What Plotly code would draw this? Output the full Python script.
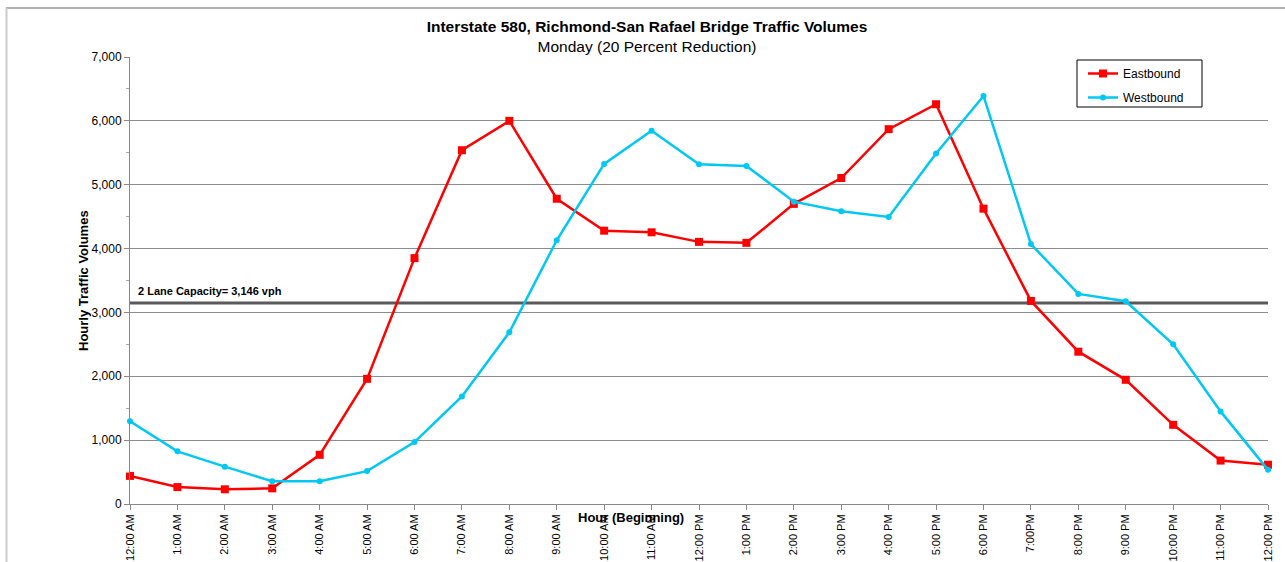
import plotly.graph_objects as go

hours = ["12:00 AM", "1:00 AM", "2:00 AM", "3:00 AM", "4:00 AM", "5:00 AM", "6:00 AM",
         "7:00 AM", "8:00 AM", "9:00 AM", "10:00 AM", "11:00 AM", "12:00 PM", "1:00 PM",
         "2:00 PM", "3:00 PM", "4:00 PM", "5:00 PM", "6:00 PM", "7:00PM", "8:00 PM",
         "9:00 PM", "10:00 PM", "11:00 PM", "12:00 PM"]
eastbound = [440, 265, 230, 245, 770, 1960, 3850, 5540, 6000, 4780, 4280, 4255, 4105,
             4090, 4700, 5105, 5870, 6260, 4625, 3180, 2385, 1945, 1240, 680, 615]
westbound = [1295, 825, 585, 355, 355, 515, 970, 1685, 2690, 4130, 5325, 5845, 5320,
             5295, 4735, 4585, 4495, 5490, 6390, 4070, 3290, 3175, 2500, 1450, 535]
capacity = 3146
capacity_label = "2 Lane Capacity= 3,146 vph"

xpos = list(range(len(hours)))
FONT = "Liberation Sans, Arial, sans-serif"

L, R, T, B = 130, 1268, 57, 504
PW, PH = R - L, B - T


def px(xp):
    return (xp - L) / PW


def py(yp):
    return (B - yp) / PH


fig = go.Figure()
fig.add_trace(go.Scatter(
    x=xpos, y=eastbound, name="Eastbound", mode="lines+markers", legendgroup="e",
    line=dict(color="#FF0000", width=2.5),
    marker=dict(symbol="square", size=8, color="#FF0000"),
    cliponaxis=False))
fig.add_trace(go.Scatter(
    x=xpos, y=westbound, name="Westbound", mode="lines+markers", legendgroup="w",
    line=dict(color="#00C8F2", width=2.5),
    marker=dict(symbol="circle", size=6, color="#00C8F2"),
    cliponaxis=False))

# capacity line
fig.add_shape(type="line", xref="paper", yref="y", x0=0, x1=1, y0=capacity, y1=capacity,
              line=dict(color="#5a5a5a", width=3), layer="below")
fig.add_annotation(xref="paper", yref="y", x=px(136), y=capacity, yshift=12,
                   text="<b>" + capacity_label + "</b>", showarrow=False,
                   xanchor="left", yanchor="middle", font=dict(size=11, color="black", family=FONT))

# outer frame lines (top and left)
fig.add_shape(type="line", xref="paper", yref="paper", x0=px(6), x1=px(1290), y0=py(8), y1=py(8),
              line=dict(color="#999999", width=1.5))
fig.add_shape(type="line", xref="paper", yref="paper", x0=px(6.5), x1=px(6.5), y0=py(570), y1=py(8),
              line=dict(color="#cccccc", width=2))

# legend box
fig.add_shape(type="rect", xref="paper", yref="paper", x0=px(1077), x1=px(1202), y0=py(107), y1=py(60),
              line=dict(color="black", width=1), fillcolor="white", layer="above")

# axis titles as annotations
fig.add_annotation(xref="paper", yref="paper", x=px(631), y=py(517),
                   text="<b>Hour (Beginning)</b>", showarrow=False,
                   xanchor="center", yanchor="middle", font=dict(size=13, color="black", family=FONT))
fig.add_annotation(xref="paper", yref="paper", x=px(83), y=py(281), textangle=-90,
                   text="<b>Hourly Traffic Volumes</b>", showarrow=False,
                   xanchor="center", yanchor="middle", font=dict(size=13, color="black", family=FONT))

fig.update_layout(
    width=1285, height=562,
    margin=dict(l=L, r=1285 - R, t=T, b=562 - B, autoexpand=False),
    paper_bgcolor="white", plot_bgcolor="white",
    font=dict(family=FONT, color="black", size=12),
    title=dict(
        text="<b>Interstate 580, Richmond-San Rafael Bridge Traffic Volumes</b><br>"
             "<span style='font-size:15.5px'>Monday (20 Percent Reduction)</span>",
        x=647 / 1285, xanchor="center", y=1 - 32 / 562, yanchor="top",
        font=dict(size=15.5, family=FONT, color="black")),
    showlegend=True,
    legend=dict(x=px(1083), y=py(59), xanchor="left", yanchor="top",
                borderwidth=0, bgcolor="rgba(0,0,0,0)",
                font=dict(size=12, family=FONT), itemwidth=30, tracegroupgap=5),
    xaxis=dict(range=[0, 24], tickmode="array", tickvals=xpos, ticktext=hours,
               tickangle=-90, showgrid=False, zeroline=False, automargin=False,
               showline=True, linecolor="#888888", linewidth=1,
               ticks="outside", ticklen=5, tickcolor="#888888",
               tickfont=dict(size=11, family=FONT)),
    yaxis=dict(range=[0, 7000], tickvals=list(range(0, 7001, 1000)), tickformat=",",
               showgrid=True, gridcolor="#8c8c8c", gridwidth=1, zeroline=False, automargin=False,
               showline=True, linecolor="#888888", linewidth=1,
               ticks="outside", ticklen=5, tickcolor="#888888",
               minor=dict(tickvals=list(range(500, 7000, 1000)), ticks="outside", ticklen=3,
                          tickcolor="#aaaaaa", showgrid=False),
               tickfont=dict(size=12, family=FONT)),
)

fig.write_html("out.html", config={"displayModeBar": False},
               post_script="document.body.style.margin='0';document.body.style.overflow='hidden';")
